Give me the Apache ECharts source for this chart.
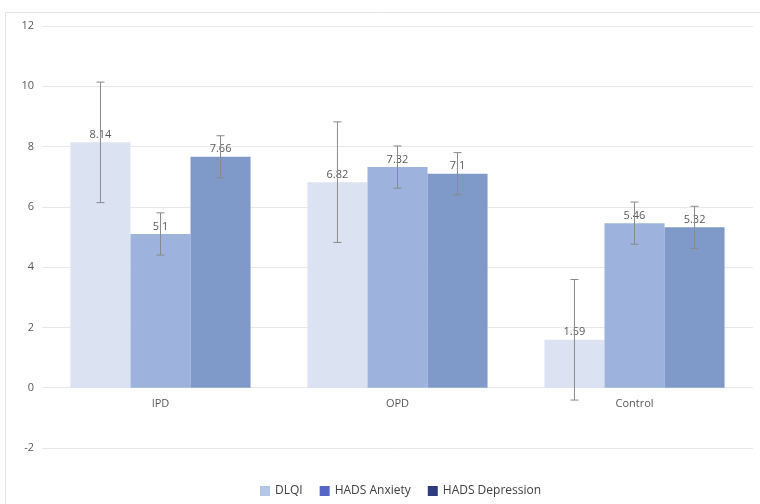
<!DOCTYPE html>
<html><head><meta charset="utf-8">
<script src="https://cdn.jsdelivr.net/npm/echarts@6/dist/echarts.min.js"></script>
<style>html,body{margin:0;padding:0;background:#fff}#c{width:760px;height:504px}</style>
</head><body><div id="c"></div>
<script>
const categories = ['IPD', 'OPD', 'Control'];
const seriesNames = ['DLQI', 'HADS Anxiety', 'HADS Depression'];
const dlqi = [8.14, 6.82, 1.59];
const anxiety = [5.1, 7.32, 5.46];
const depression = [7.66, 7.1, 5.32];
const dlqiErr = [2, 2, 2];
const anxietyErr = [0.7, 0.7, 0.7];
const depressionErr = [0.7, 0.7, 0.7];
const yTicks = [-2, 0, 2, 4, 6, 8, 10, 12];

const barColors = ['#dbe3f2', '#9db2dc', '#7f9ac8'];
const legendColors = ['#b4c6e7', '#5566c4', '#2f3c80'];
const values = [dlqi, anxiety, depression];
const errs = [dlqiErr, anxietyErr, depressionErr];
const GAP = 0.24;

function errRender(k) {
  return function (params, api) {
    const ci = api.value(0);
    const lo = api.coord([ci, api.value(1)]);
    const hi = api.coord([ci, api.value(2)]);
    const band = api.size([1, 0])[0];
    const bw = band * (1 - GAP) / 3;
    const x = lo[0] + (k - 1) * bw;
    const cap = 4;
    const st = { stroke: '#8a8a8a', lineWidth: 1 };
    return { type: 'group', children: [
      { type: 'line', shape: { x1: x, y1: lo[1], x2: x, y2: hi[1] }, style: st },
      { type: 'line', shape: { x1: x - cap, y1: lo[1], x2: x + cap, y2: lo[1] }, style: st },
      { type: 'line', shape: { x1: x - cap, y1: hi[1], x2: x + cap, y2: hi[1] }, style: st }
    ]};
  };
}

const series = [];
values.forEach((v, k) => {
  series.push({
    name: seriesNames[k], type: 'bar', data: v,
    barGap: '0%', barCategoryGap: (GAP * 100) + '%',
    itemStyle: { color: barColors[k] },
    label: { show: true, position: 'top', distance: 2, color: '#595959', fontSize: 11, fontFamily: 'Open Sans' },
    z: 2
  });
});
values.forEach((v, k) => {
  series.push({
    type: 'custom', renderItem: errRender(k),
    data: v.map((val, i) => [i, val - errs[k][i], val + errs[k][i]]),
    encode: { x: 0, y: [1, 2] }, z: 5, silent: true, tooltip: { show: false }
  });
});

const chart = echarts.init(document.getElementById('c'), null, { renderer: 'canvas' });
chart.setOption({
  animation: false,
  backgroundColor: '#fff',
  grid: { left: 42, right: 7, top: 26, bottom: 56, containLabel: false },
  legend: {
    bottom: 2, left: 255, itemWidth: 10, itemHeight: 10, itemGap: 17, icon: 'rect',
    textStyle: { color: '#404040', fontSize: 12, fontFamily: 'Open Sans' },
    data: seriesNames.map((n, k) => ({ name: n, itemStyle: { color: legendColors[k] } }))
  },
  xAxis: {
    type: 'category', data: categories, position: 'bottom', offset: -60,
    axisLine: { show: false, onZero: false }, axisTick: { show: false },
    axisLabel: { color: '#595959', fontSize: 11, margin: 10, fontFamily: 'Open Sans' }
  },
  yAxis: {
    type: 'value', min: yTicks[0], max: yTicks[yTicks.length - 1], interval: 2,
    axisLine: { show: false }, axisTick: { show: false },
    splitLine: { lineStyle: { color: '#e8e8e8', width: 1 } },
    axisLabel: { color: '#595959', fontSize: 11, margin: 8, fontFamily: 'Open Sans' }
  },
  graphic: [
    { type: 'line', shape: { x1: 5.5, y1: 12.5, x2: 760, y2: 12.5 }, style: { stroke: '#e4e4e4', lineWidth: 1 }, silent: true },
    { type: 'line', shape: { x1: 5.5, y1: 12.5, x2: 5.5, y2: 504 }, style: { stroke: '#e4e4e4', lineWidth: 1 }, silent: true }
  ],
  series: series
});
</script>
</body></html>
